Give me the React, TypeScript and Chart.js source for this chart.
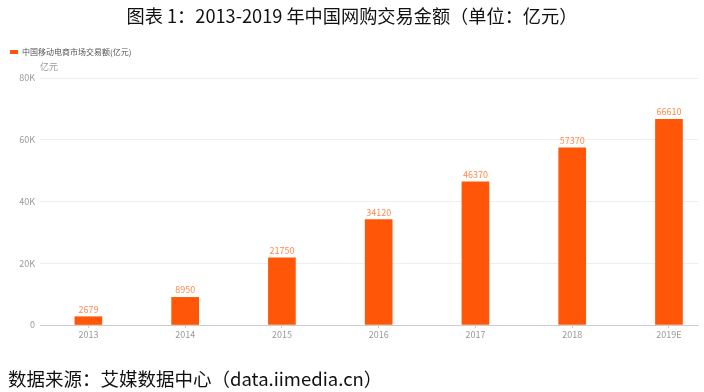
import React, { useEffect, useRef } from "react";
import { Chart, registerables } from "chart.js";
Chart.register(...registerables);

const years = ["2013", "2014", "2015", "2016", "2017", "2018", "2019E"];
const values = [2679, 8950, 21750, 34120, 46370, 57370, 66610];
const yMin = 0;
const yMax = 80000;
const yStep = 20000;
const seriesLabel = "中国移动电商市场交易额(亿元)";
const titleText = "图表 1：2013-2019 年中国网购交易金额（单位：亿元）";
const sourceText = "数据来源：艾媒数据中心（data.iimedia.cn）";
const unitText = "亿元";

const FONT = "'Noto Sans CJK SC', 'Noto Sans', sans-serif";
const BAR_COLOR = "#FF5707";
const LABEL_COLOR = "#FF8A4C";

const legendSpacer = {
  id: "legendSpacer",
  beforeInit(chart: any) {
    const lg = chart.legend;
    if (!lg) return;
    const orig = lg.fit;
    lg.fit = function () {
      orig.call(this);
      this.height += 12;
    };
  },
};

const valueLabels = {
  id: "valueLabels",
  afterDatasetsDraw(chart: any) {
    const ctx = chart.ctx;
    const meta = chart.getDatasetMeta(0);
    ctx.save();
    ctx.fillStyle = LABEL_COLOR;
    ctx.font = `9px ${FONT}`;
    ctx.textAlign = "center";
    ctx.textBaseline = "bottom";
    meta.data.forEach((el: any, i: number) => {
      ctx.fillText(String(values[i]), el.x, el.y - 3);
    });
    ctx.restore();
  },
};

const unitLabel = {
  id: "unitLabel",
  afterDraw(chart: any) {
    const ctx = chart.ctx;
    ctx.save();
    ctx.fillStyle = "#999";
    ctx.font = `9px ${FONT}`;
    ctx.textAlign = "left";
    ctx.textBaseline = "middle";
    ctx.fillText(unitText, chart.chartArea.left, chart.chartArea.top - 11);
    ctx.restore();
  },
};

export default function App() {
  const ref = useRef<HTMLCanvasElement | null>(null);
  useEffect(() => {
    if (!ref.current) return;
    const chart = new Chart(ref.current, {
      type: "bar",
      data: {
        datasets: [
          {
            label: seriesLabel,
            data: values.map((v, i) => ({ x: i, y: v })),
            backgroundColor: BAR_COLOR,
            borderWidth: 0,
            barThickness: 27,
          },
        ],
      },
      options: {
        animation: false,
        responsive: false,
        layout: { padding: { top: 38, left: 0, right: 6, bottom: 47 } },
        plugins: {
          legend: {
            display: true,
            position: "top",
            align: "start",
            labels: {
              boxWidth: 8,
              boxHeight: 4,
              padding: 10,
              color: "#555",
              font: { size: 8, family: FONT },
            },
          },
          tooltip: { enabled: false },
        },
        scales: {
          x: {
            type: "linear",
            offset: false,
            min: -0.5,
            max: 6.3,
            afterBuildTicks: (s: any) => {
              s.ticks = years.map((_, i) => ({ value: i }));
            },
            afterFit: (s: any) => {
              s.height = 20;
              s.paddingLeft = 0;
              s.paddingRight = 0;
            },
            ticks: {
              autoSkip: false,
              maxRotation: 0,
              padding: 1,
              color: "#999",
              font: { size: 9, family: FONT },
              callback: (v: any) => years[v] ?? "",
            },
            grid: {
              display: true,
              offset: false,
              drawOnChartArea: false,
              drawTicks: true,
              tickLength: 3,
              color: "#ccc",
            },
            border: { display: true, color: "#ccc" },
          },
          y: {
            min: yMin,
            max: yMax,
            afterFit: (s: any) => {
              s.width = 40;
              s.paddingTop = 0;
              s.paddingBottom = 0;
            },
            ticks: {
              stepSize: yStep,
              padding: 5,
              color: "#999",
              font: { size: 9, family: FONT },
              callback: (v: any) => (v === 0 ? "0" : v / 1000 + "K"),
            },
            grid: { color: "#eeeeee", drawTicks: false },
            border: { display: false },
          },
        },
      },
      plugins: [legendSpacer, valueLabels, unitLabel],
    });
    return () => chart.destroy();
  }, []);

  return (
    <div
      style={{
        position: "absolute",
        left: 0,
        top: 0,
        width: 704,
        height: 392,
        overflow: "hidden",
        background: "#fff",
      }}
    >
      <canvas
        ref={ref}
        width={704}
        height={392}
        style={{ position: "absolute", left: 0, top: 0, width: 704, height: 392 }}
      />
      <div
        style={{
          position: "absolute",
          left: 0,
          top: 0,
          width: 704,
          textAlign: "center",
          fontFamily: FONT,
          fontSize: 18.2,
          lineHeight: "30px",
          color: "#111",
          whiteSpace: "nowrap",
        }}
      >
        {titleText}
      </div>
      <div
        style={{
          position: "absolute",
          left: 8,
          top: 366,
          fontFamily: FONT,
          fontSize: 18.5,
          lineHeight: "24px",
          color: "#111",
          whiteSpace: "nowrap",
        }}
      >
        {sourceText}
      </div>
    </div>
  );
}
